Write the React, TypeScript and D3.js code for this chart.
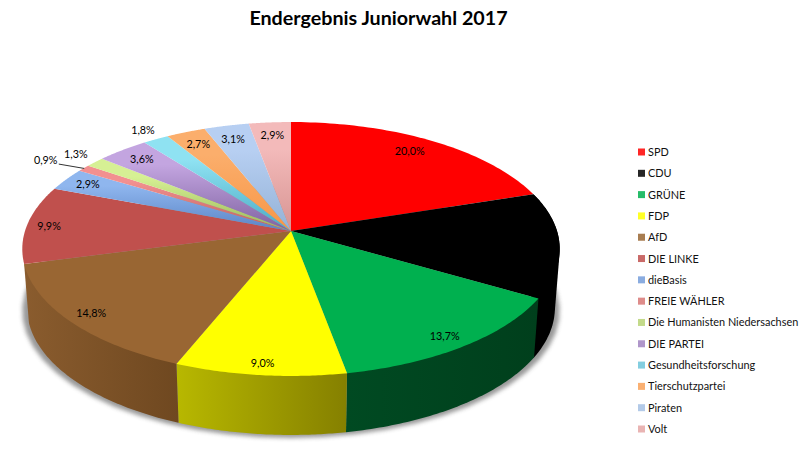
import React from "react";
import * as d3 from "d3";

const parties = [
  "SPD", "CDU", "GRÜNE", "FDP", "AfD", "DIE LINKE", "dieBasis", "FREIE WÄHLER",
  "Die Humanisten Niedersachsen", "DIE PARTEI", "Gesundheitsforschung",
  "Tierschutzpartei", "Piraten", "Volt",
];
const votes = [20.0, 13.4, 13.7, 9.0, 14.8, 9.9, 2.9, 0.9, 1.3, 3.6, 1.8, 2.7, 3.1, 2.9];

// colour at the rim and near the hub of the top face
const rimColors = [
  "#ff0000", "#000000", "#00b04f", "#ffff00", "#996633", "#c0504d", "#8fb6ee",
  "#f29090", "#d6f094", "#c3a5e0", "#8fe2f2", "#fbae6c", "#b7cff2", "#f3baba",
];
const hubColors = [
  "#ff0000", "#000000", "#00b04f", "#ffff00", "#996633", "#c0504d", "#5a84c6",
  "#bd5f5c", "#9ab858", "#7f62a1", "#4aaac4", "#f79646", "#94b2d6", "#d79492",
];
// side walls, only the front slices show one
const wallLeft = ["#000000", "#004a22", "#b8b800", "#8a5c2e"];
const wallRight = ["#000000", "#003f1c", "#858000", "#6f4820"];
// distance of each value label from the hub (1 = rim) and nudge off the slice middle in degrees
const labelRadius = [0.86, 0.8, 0.914, 0.927, 0.915, 0.916, 0.898, 1.178, 1.116, 0.875, 1.108, 0.869, 0.861, 0.87];
const labelNudge = [-1.2, 0, 0.7, 0, 0, -0.5, 0, -1.3, 0.5, 0, 0, 0, -0.4, 0];

const width = 800;
const height = 467;
const hub = { x: 291, y: 231 };
const rx = 266;
const ry = 124.4;
const tilt = 0.1417; // perspective: back of the disc shrinks
const depth = 59;
const bottomScale = 0.982; // bottom rim is a bit narrower than the top one
const font = "Lato, 'Open Sans', sans-serif";

type Pt = [number, number];

// polar position on the disc to screen
const project = (angle: number, r = 1): Pt => {
  const u = r * Math.sin(angle);
  const v = r * Math.cos(angle);
  const w = 1 + tilt * v;
  return [hub.x + (rx * u) / w, hub.y - (ry * v) / w];
};

const arcPoints = (a0: number, a1: number) =>
  d3.range(0, 61).map((i) => project(a0 + ((a1 - a0) * i) / 60));

const pie = d3.pie<number>().sort(null).value((d) => d);
const slices = pie(votes);
const line = d3.line();
const percent = (v: number) => v.toFixed(1).replace(".", ",") + "%";

const legendY = d3
  .scalePoint<string>()
  .domain(parties)
  .range([152, 429]);

const outline = arcPoints(0, 2 * Math.PI);
const lowered = (pts: Pt[]) =>
  pts.map(([x, y]) => [hub.x + (x - hub.x) * bottomScale, y + depth] as Pt);
const shadowPts = outline.map(([x, y]) => [x, y + depth + 3] as Pt);

const walls = slices.slice(1, 5).map((s) => {
  const pts = arcPoints(s.startAngle, s.endAngle);
  return d3.polygonHull([...pts, ...lowered(pts)]) as Pt[];
});

export default function App() {
  const leader = slices[7];
  const leaderMid = (leader.startAngle + leader.endAngle) / 2 - (1.3 * Math.PI) / 180;
  return (
    <svg
      width={width}
      height={height}
      style={{ position: "absolute", left: 0, top: 0, background: "#fff" }}
    >
      <defs>
        <filter id="soft" x="-10%" y="-10%" width="120%" height="120%">
          <feGaussianBlur stdDeviation="2" />
        </filter>
        {walls.map((hull, i) => (
          <linearGradient
            key={i}
            id={`wall${i}`}
            gradientUnits="userSpaceOnUse"
            x1={d3.min(hull, (p) => p[0])}
            x2={d3.max(hull, (p) => p[0])}
            y1={0}
            y2={0}
          >
            <stop offset="0%" stopColor={wallLeft[i]} />
            <stop offset="100%" stopColor={wallRight[i]} />
          </linearGradient>
        ))}
        {slices.map((s, i) => (
          <linearGradient
            key={i}
            id={`top${i}`}
            gradientUnits="userSpaceOnUse"
            x1={0}
            x2={0}
            y1={d3.min(arcPoints(s.startAngle, s.endAngle), (p) => p[1])}
            y2={hub.y}
          >
            <stop offset="25%" stopColor={rimColors[i]} />
            <stop offset="100%" stopColor={hubColors[i]} />
          </linearGradient>
        ))}
      </defs>

      <text
        x={378.5}
        y={25}
        textAnchor="middle"
        fontFamily={font}
        fontWeight={700}
        fontSize={19.7}
        fill="#000"
      >
        Endergebnis Juniorwahl 2017
      </text>

      <path d={line(shadowPts) + "Z"} fill="#555" opacity={0.6} filter="url(#soft)" />

      {walls.map((hull, i) => (
        <path key={i} d={line(hull) + "Z"} fill={`url(#wall${i})`} />
      ))}

      {slices.map((s, i) => (
        <path
          key={i}
          d={line([[hub.x, hub.y], ...arcPoints(s.startAngle, s.endAngle)]) + "Z"}
          fill={`url(#top${i})`}
        />
      ))}

      <path
        d={line([project(leaderMid + 0.022, 0.997), project(leaderMid, 1.11)]) ?? ""}
        fill="none"
        stroke="#333"
        strokeWidth={1}
      />

      {slices.map((s, i) => {
        const angle = (s.startAngle + s.endAngle) / 2 + (labelNudge[i] * Math.PI) / 180;
        const [x, y] = project(angle, labelRadius[i]);
        return (
          <text
            key={i}
            x={x}
            y={y + 4}
            textAnchor="middle"
            fontFamily={font}
            fontSize={10.8}
            fill="#000"
          >
            {percent(votes[i])}
          </text>
        );
      })}

      {parties.map((p, i) => (
        <g key={p}>
          <rect
            x={638}
            y={legendY(p)! - 3.5}
            width={7}
            height={7}
            fill={d3.interpolateRgb(rimColors[i], hubColors[i])(0.5)}
            opacity={0.85}
          />
          <text
            x={648}
            y={legendY(p)! + 4}
            fontFamily={font}
            fontSize={10.9}
            fill="#111"
          >
            {p}
          </text>
        </g>
      ))}
    </svg>
  );
}
